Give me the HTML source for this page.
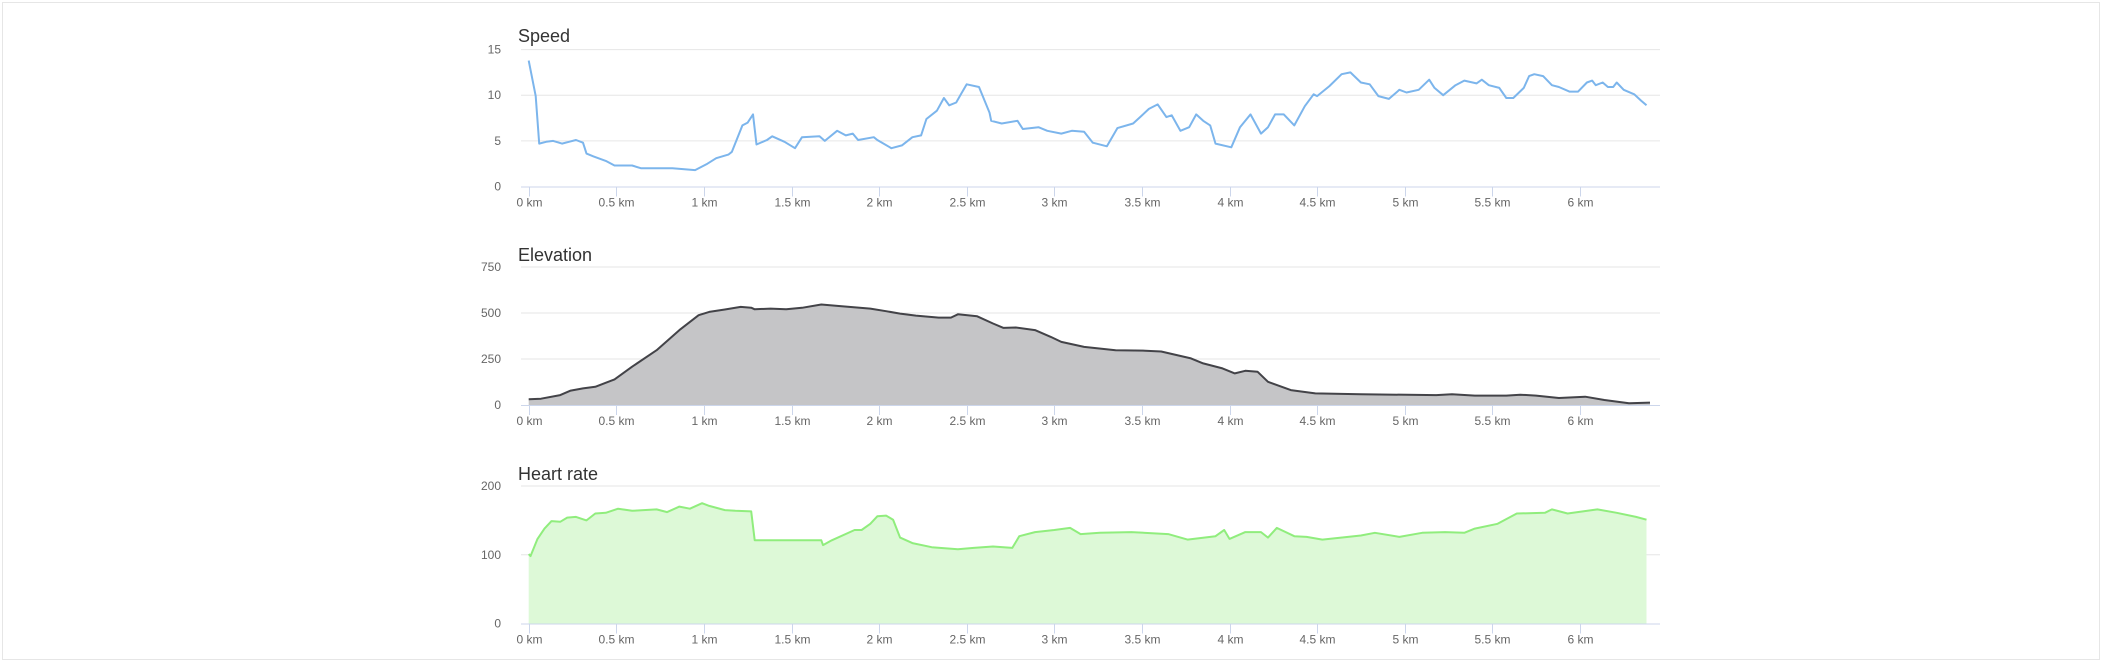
<!DOCTYPE html>
<html><head><meta charset="utf-8">
<style>
html,body{margin:0;padding:0;background:#fff;}
#wrap{position:relative;width:2104px;height:664px;overflow:hidden;}
#frame{position:absolute;left:2px;top:2px;width:2098px;height:658px;border:1px solid #e6e6e6;box-sizing:border-box;}
svg{position:absolute;left:0;top:0;}
text{font-family:"Liberation Sans",sans-serif;}
</style></head>
<body>
<div id="wrap">
<div id="frame"></div>
<svg id="svg" width="2104" height="664"></svg>
</div>
<script>
// Distance ticks (km)
const xTicks = [0,0.5,1,1.5,2,2.5,3,3.5,4,4.5,5,5.5,6];
const xTickLabels = ["0 km","0.5 km","1 km","1.5 km","2 km","2.5 km","3 km","3.5 km","4 km","4.5 km","5 km","5.5 km","6 km"];

// Speed series
const speedKm = [0,0.04,0.06,0.10,0.14,0.19,0.23,0.27,0.31,0.33,0.37,0.44,0.49,0.59,0.64,0.74,0.82,0.95,1.02,1.07,1.14,1.16,1.22,1.25,1.28,1.30,1.36,1.39,1.46,1.52,1.56,1.66,1.69,1.76,1.81,1.85,1.88,1.97,1.99,2.07,2.13,2.19,2.24,2.27,2.33,2.37,2.40,2.44,2.47,2.50,2.57,2.63,2.64,2.70,2.79,2.82,2.91,2.96,3.04,3.10,3.17,3.22,3.30,3.36,3.45,3.49,3.54,3.59,3.64,3.67,3.72,3.77,3.81,3.85,3.89,3.92,4.01,4.06,4.12,4.18,4.22,4.26,4.31,4.37,4.43,4.48,4.50,4.57,4.64,4.69,4.75,4.80,4.85,4.91,4.97,5.01,5.08,5.14,5.17,5.22,5.29,5.34,5.41,5.44,5.48,5.54,5.58,5.62,5.68,5.71,5.74,5.79,5.84,5.88,5.94,5.99,6.04,6.07,6.09,6.13,6.16,6.19,6.21,6.25,6.31,6.35,6.38];
const speedVal = [13.8,9.9,4.7,4.9,5.0,4.7,4.9,5.1,4.8,3.6,3.3,2.8,2.3,2.3,2.0,2.0,2.0,1.8,2.5,3.1,3.5,3.8,6.7,7.0,7.9,4.6,5.1,5.5,4.9,4.2,5.4,5.5,5.0,6.1,5.6,5.8,5.1,5.4,5.1,4.2,4.5,5.4,5.6,7.4,8.3,9.7,8.9,9.2,10.2,11.2,10.9,8.1,7.2,6.9,7.2,6.3,6.5,6.1,5.8,6.1,6.0,4.8,4.4,6.4,6.9,7.6,8.5,9.0,7.6,7.8,6.1,6.5,7.9,7.2,6.7,4.7,4.3,6.5,7.9,5.8,6.5,7.9,7.9,6.7,8.8,10.1,9.9,11.0,12.3,12.5,11.4,11.2,9.9,9.6,10.6,10.3,10.6,11.7,10.8,10.0,11.1,11.6,11.3,11.7,11.1,10.8,9.7,9.7,10.8,12.1,12.3,12.1,11.1,10.9,10.4,10.4,11.4,11.6,11.1,11.4,10.9,10.9,11.4,10.6,10.1,9.4,8.9];
const speedTicks = [0,5,10,15];

// Elevation series
const elevKm = [0,0.07,0.18,0.24,0.31,0.38,0.49,0.59,0.73,0.86,0.97,1.03,1.12,1.21,1.27,1.29,1.38,1.47,1.56,1.67,1.77,1.95,2.04,2.12,2.21,2.34,2.41,2.45,2.56,2.65,2.71,2.78,2.89,2.98,3.04,3.17,3.35,3.52,3.61,3.70,3.78,3.85,3.96,4.03,4.09,4.16,4.22,4.35,4.49,4.75,5.18,5.27,5.40,5.58,5.66,5.75,5.88,6.03,6.14,6.28,6.40];
const elevVal = [31,34,54,78,90,99,139,208,298,407,488,506,519,533,529,520,524,520,528,546,538,524,510,497,486,475,475,493,482,443,419,421,407,370,343,316,298,295,291,271,253,226,199,172,186,181,126,81,63,58,54,58,51,51,56,51,38,45,27,9,13];
const elevTicks = [0,250,500,750];

// Heart rate series
const hrKm = [0,0.01,0.05,0.09,0.13,0.18,0.22,0.27,0.33,0.38,0.44,0.51,0.59,0.73,0.79,0.86,0.92,0.99,1.03,1.12,1.18,1.27,1.29,1.67,1.68,1.73,1.86,1.90,1.95,1.99,2.04,2.08,2.12,2.19,2.30,2.45,2.54,2.65,2.76,2.80,2.89,3.00,3.09,3.15,3.26,3.44,3.65,3.76,3.92,3.97,4.00,4.09,4.18,4.22,4.27,4.37,4.44,4.53,4.75,4.83,4.97,5.10,5.23,5.34,5.40,5.53,5.64,5.80,5.84,5.93,6.10,6.21,6.32,6.38];
const hrVal = [101,98,123,138,149,148,154,155,150,160,161,167,164,166,162,170,167,175,171,165,164,163,121,121,114,121,136,136,145,156,157,151,125,117,111,108,110,112,110,127,133,136,139,130,132,133,130,122,127,136,123,133,133,125,139,127,126,122,128,132,126,132,133,132,138,145,160,161,166,160,166,161,155,151];
const hrTicks = [0,100,200];

const NS = "http://www.w3.org/2000/svg";
const svg = document.getElementById('svg');
const X0 = 528.7, KM = 175.2, GL = 521, GR = 1660;
function xScale(km){ return X0 + KM*km; }
function mk(tag, attrs, parent){
  const e = document.createElementNS(NS, tag);
  for (const k in attrs) e.setAttribute(k, attrs[k]);
  (parent||svg).appendChild(e);
  return e;
}

function chart(cfg){
  const g = mk('g', {});
  
  
  const yScale = v => cfg.yBot - (v - 0) / cfg.max * (cfg.yBot - cfg.yTop);
  const t = mk('text', {x:518, y:cfg.titleY, 'font-size':18, fill:'#333'}, g);
  t.textContent = cfg.title;
  
  
  cfg.yTicks.forEach(v => {
    const y = yScale(v);
    if (v !== 0) {
      const l = mk('line', {x1:GL, x2:GR, y1:y, y2:y, stroke:'#e6e6e6', 'stroke-width':1}, g);
      
      
    }
    const lab = mk('text', {x:501, y:y+4, 'font-size':12, fill:'#666', 'text-anchor':'end'}, g);
    lab.textContent = v;
    
    
  });
  // area / line
  let d = '';
  cfg.km.forEach((k,i) => { d += (i?'L':'M') + xScale(k).toFixed(1) + ' ' + yScale(cfg.vals[i]).toFixed(1); });
  if (cfg.fill) {
    const a = mk('path', {d: d + 'L' + xScale(cfg.km[cfg.km.length-1]).toFixed(1) + ' ' + cfg.yBot + 'L' + xScale(cfg.km[0]).toFixed(1) + ' ' + cfg.yBot + 'Z', fill:cfg.fill, stroke:'none'}, g);
    
    
  }
  const ln = mk('path', {d:d, fill:'none', stroke:cfg.color, 'stroke-width':2, 'stroke-linejoin':'round'}, g);
  
  
  // x axis
  const ax = mk('line', {x1:GL, x2:GR, y1:cfg.yBot+0.5, y2:cfg.yBot+0.5, stroke:'#ccd6eb', 'stroke-width':1}, g);
  
  
  xTicks.forEach((k,i) => {
    const x = Math.round(xScale(k)) + 0.5;
    const tk = mk('line', {x1:x, x2:x, y1:cfg.yBot, y2:cfg.yBot+10, stroke:'#ccd6eb', 'stroke-width':1}, g);
    
    
    const lab = mk('text', {x:x, y:cfg.yBot+20, 'font-size':12, fill:'#666', 'text-anchor':'middle'}, g);
    lab.textContent = xTickLabels[i];
    
    
  });
}

chart({name:'speed', title:'Speed', titleY:42, yTop:49.6, yBot:186.5, max:15, yTicks:speedTicks, km:speedKm, vals:speedVal, color:'#7cb5ec', fill:null});
chart({name:'elevation', title:'Elevation', titleY:261, yTop:267, yBot:405, max:750, yTicks:elevTicks, km:elevKm, vals:elevVal, color:'#434348', fill:'#c5c5c7'});
chart({name:'heart-rate', title:'Heart rate', titleY:480, yTop:486, yBot:623.5, max:200, yTicks:hrTicks, km:hrKm, vals:hrVal, color:'#90ed7d', fill:'#ddf9d7'});
</script>
</body></html>
